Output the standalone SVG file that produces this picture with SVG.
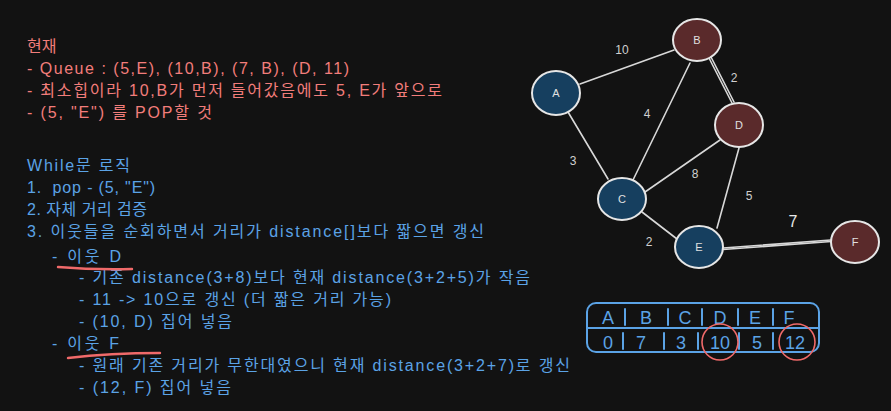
<svg xmlns="http://www.w3.org/2000/svg" width="891" height="411" viewBox="0 0 891 411">
<style>
.t{font-family:"Liberation Sans","Noto Sans CJK KR",sans-serif;font-size:16px}
.r{fill:#f27d7b}
.b{fill:#5ba3e6}
.edge{stroke:#d8d8d8;stroke-width:1.6;fill:none;stroke-linecap:round}
.nb{fill:#163f5f;stroke:#e6e6e6;stroke-width:2}
.nr{fill:#5a2a2b;stroke:#e6e6e6;stroke-width:2}
.nl{font-family:"Liberation Sans",sans-serif;font-size:11px;fill:#e0e0e0;text-anchor:middle}
.el{font-family:"Liberation Sans",sans-serif;font-size:12px;fill:#d0d0d0;text-anchor:middle}
.tb{font-family:"Liberation Sans",sans-serif;font-size:18px;fill:#5ba3e6;text-anchor:middle}
.ul{stroke:#f06a6a;stroke-width:2.4;fill:none;stroke-linecap:round}
.tl{stroke:#5ba3e6;stroke-width:2;fill:none;stroke-linecap:round}
</style>
<rect width="891" height="411" fill="#121212"/>
<g id="notes-red">
<text class="t r" x="27" y="52">현재</text>
<text class="t r" x="27" y="74" textLength="322">- Queue : (5,E), (10,B), (7, B), (D, 11)</text>
<text class="t r" x="27" y="96" textLength="415">- 최소힙이라 10,B가 먼저 들어갔음에도 5, E가 앞으로</text>
<text class="t r" x="27" y="118" textLength="185">- (5, "E") 를 POP할 것</text>
</g>
<g id="notes-blue">
<text class="t b" x="27" y="171" textLength="103">While문 로직</text>
<text class="t b" x="27" y="193" textLength="128" style="white-space:pre">1.  pop - (5, "E")</text>
<text class="t b" x="27" y="215" textLength="120">2. 자체 거리 검증</text>
<text class="t b" x="27" y="237" textLength="457">3. 이웃들을 순회하면서 거리가 distance[]보다 짧으면 갱신</text>
<text class="t b" x="52" y="262" textLength="69">- 이웃 D</text>
<text class="t b" x="79" y="283" textLength="451">- 기존 distance(3+8)보다 현재 distance(3+2+5)가 작음</text>
<text class="t b" x="79" y="305" textLength="312">- 11 -&gt; 10으로 갱신 (더 짧은 거리 가능)</text>
<text class="t b" x="79" y="327" textLength="153">- (10, D) 집어 넣음</text>
<text class="t b" x="52" y="349" textLength="67">- 이웃 F</text>
<text class="t b" x="79" y="371" textLength="491">- 원래 기존 거리가 무한대였으니 현재 distance(3+2+7)로 갱신</text>
<text class="t b" x="79" y="393" textLength="152">- (12, F) 집어 넣음</text>
<path class="ul" d="M58 267 Q95 270 132 269"/>
<path class="ul" d="M68 358 Q110 353 160 353"/>
</g>
<g id="connectors">
<line class="edge" x1="580" y1="84" x2="674" y2="50"/>
<line class="edge" x1="568" y1="112" x2="608" y2="179"/>
<line class="edge" x1="690" y1="63" x2="633" y2="180"/>
<line class="edge" x1="709" y1="58" x2="732" y2="103"/>
<line class="edge" x1="711" y1="57" x2="734" y2="102"/>
<line class="edge" x1="645" y1="192" x2="720" y2="140"/>
<line class="edge" x1="739" y1="148" x2="717" y2="228"/>
<line class="edge" x1="642" y1="212" x2="677" y2="239"/>
<line class="edge" x1="723" y1="248" x2="831" y2="240"/>
<line class="edge" x1="723" y1="249.5" x2="831" y2="241.5"/>
<text class="el" x="622" y="54">10</text>
<text class="el" x="734" y="82">2</text>
<text class="el" x="647" y="118">4</text>
<text class="el" x="573" y="165">3</text>
<text class="el" x="695" y="178">8</text>
<text class="el" x="749" y="200">5</text>
<text class="el" x="649" y="246">2</text>
<text class="el" x="793" y="227" style="font-size:16px;fill:#e8e8e8">7</text>
</g>
<g id="node-A"><ellipse class="nb" cx="556" cy="93" rx="24" ry="22"/><text class="nl" x="556" y="97">A</text></g>
<g id="node-B"><ellipse class="nr" cx="697" cy="40" rx="24" ry="21"/><text class="nl" x="697" y="44">B</text></g>
<g id="node-C"><ellipse class="nb" cx="622" cy="199" rx="24" ry="21"/><text class="nl" x="622" y="203">C</text></g>
<g id="node-D"><ellipse class="nr" cx="739" cy="125" rx="24" ry="22"/><text class="nl" x="739" y="129">D</text></g>
<g id="node-E"><ellipse class="nb" cx="699" cy="247" rx="24" ry="21"/><text class="nl" x="699" y="251">E</text></g>
<g id="node-F"><ellipse class="nr" cx="855" cy="242" rx="24" ry="21"/><text class="nl" x="855" y="246">F</text></g>
<g id="table">
<rect x="587" y="303" width="232" height="49" rx="9" class="tl"/>
<line class="tl" x1="588" y1="328" x2="818" y2="328"/>
<line class="tl" x1="625" y1="309" x2="625" y2="325"/>
<line class="tl" x1="668" y1="309" x2="668" y2="325"/>
<line class="tl" x1="702" y1="309" x2="702" y2="325"/>
<line class="tl" x1="738" y1="309" x2="738" y2="325"/>
<line class="tl" x1="773" y1="309" x2="773" y2="325"/>
<line class="tl" x1="623" y1="333" x2="623" y2="349"/>
<line class="tl" x1="664" y1="333" x2="664" y2="349"/>
<line class="tl" x1="698" y1="333" x2="698" y2="349"/>
<line class="tl" x1="739" y1="333" x2="739" y2="349"/>
<line class="tl" x1="773" y1="333" x2="773" y2="349"/>
<text class="tb" x="608" y="324">A</text>
<text class="tb" x="646" y="324">B</text>
<text class="tb" x="685" y="324">C</text>
<text class="tb" x="720" y="324">D</text>
<text class="tb" x="755" y="324">E</text>
<text class="tb" x="789" y="324">F</text>
<text class="tb" x="608" y="349">0</text>
<text class="tb" x="641" y="349">7</text>
<text class="tb" x="681" y="349">3</text>
<text class="tb" x="720" y="349">10</text>
<text class="tb" x="757" y="349">5</text>
<text class="tb" x="795" y="349">12</text>
<ellipse cx="720" cy="342" rx="18" ry="18" fill="none" stroke="#f06a6a" stroke-width="1.6"/>
<ellipse cx="797" cy="342" rx="18" ry="18" fill="none" stroke="#f06a6a" stroke-width="1.6"/>
</g>
</svg>
